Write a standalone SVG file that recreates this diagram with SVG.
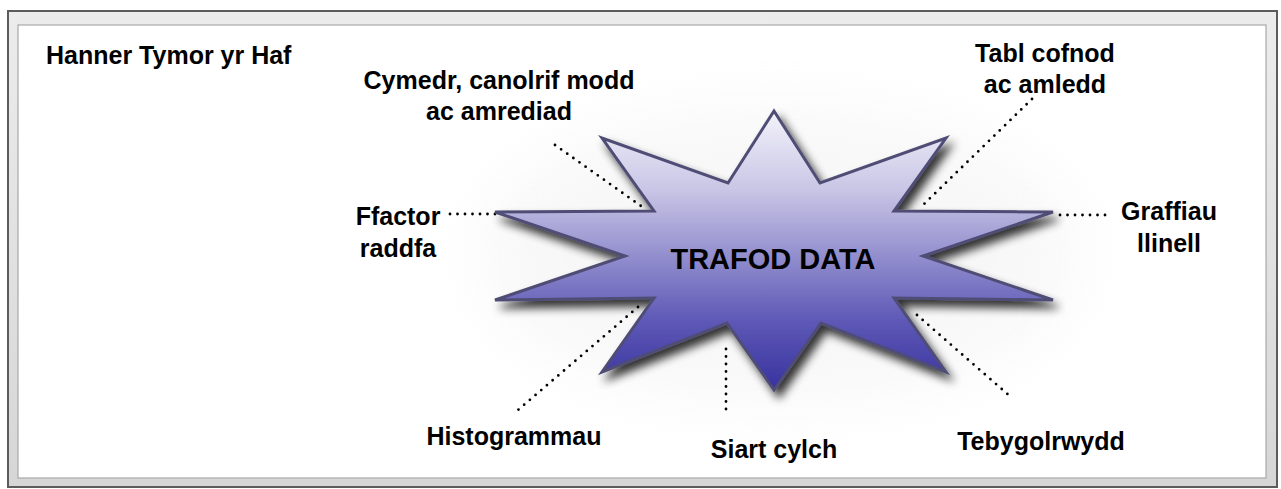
<svg xmlns="http://www.w3.org/2000/svg" width="1281" height="489" viewBox="0 0 1281 489">
  <style>
    .lbl { font-family: "Liberation Sans", Arial, sans-serif; font-weight: bold; font-size: 25px; fill: #000; }
    .mid { text-anchor: middle; }
    .title { font-size: 29px; }
    .dots { fill: none; stroke: #000; stroke-width: 2.8; stroke-linecap: round; stroke-dasharray: 0 7.5; }
  </style>
  <defs>
    <linearGradient id="starFill" gradientUnits="userSpaceOnUse" x1="0" y1="111" x2="0" y2="390">
      <stop offset="0" stop-color="#f3f2fa"/>
      <stop offset="0.28" stop-color="#c9c6e6"/>
      <stop offset="0.5" stop-color="#9793d0"/>
      <stop offset="0.75" stop-color="#5e59b6"/>
      <stop offset="1" stop-color="#38329f"/>
    </linearGradient>
    <linearGradient id="band" x1="0" y1="0" x2="0" y2="1">
      <stop offset="0" stop-color="#ececec"/>
      <stop offset="1" stop-color="#d6d6d6"/>
    </linearGradient>
    <filter id="shadow" x="-20%" y="-20%" width="140%" height="150%">
      <feGaussianBlur in="SourceAlpha" stdDeviation="5"/>
      <feOffset dx="5" dy="7" result="b"/>
      <feComponentTransfer><feFuncA type="linear" slope="0.8"/></feComponentTransfer>
      <feMerge><feMergeNode/><feMergeNode in="SourceGraphic"/></feMerge>
    </filter>
    <filter id="glow" x="-30%" y="-30%" width="160%" height="160%">
      <feGaussianBlur stdDeviation="30"/>
    </filter>
  </defs>

  <rect width="1281" height="489" fill="#ffffff"/>

  <g id="frame">
    <rect x="8" y="11" width="1269" height="476" fill="url(#band)" stroke="#5c5c5c" stroke-width="2"/>
    <rect x="18" y="25" width="1248" height="453" fill="#ffffff" stroke="#a8a8a8" stroke-width="1.2"/>
  </g>

  <ellipse id="backdrop" cx="780" cy="255" rx="300" ry="150" fill="#f1f1f3" filter="url(#glow)" opacity="0.5"/>

  <g id="heading">
    <text class="lbl" x="46" y="64">Hanner Tymor yr Haf</text>
  </g>

  <g id="connectors">
    <line class="dots" x1="555" y1="145" x2="641" y2="206"/>
    <line class="dots" x1="450" y1="214" x2="500" y2="214"/>
    <line class="dots" x1="1032" y1="99" x2="921" y2="207"/>
    <line class="dots" x1="1060" y1="215" x2="1112" y2="215"/>
    <line class="dots" x1="917" y1="315" x2="1012" y2="398"/>
    <line class="dots" x1="638" y1="307" x2="518" y2="410"/>
    <line class="dots" x1="726" y1="349" x2="726" y2="413"/>
  </g>

  <g id="center">
    <polygon filter="url(#shadow)" fill="url(#starFill)" stroke="#4f4d74" stroke-width="3" stroke-linejoin="miter"
      points="774,111 820,183 946,138 894,211 1053,212 923,256 1053,300 894,298 946,372 821,323 774,390 727,323 602,372 654,298 495,300 625,256 495,212 654,211 602,138 728,183"/>
    <text class="lbl mid title" x="773" y="269">TRAFOD DATA</text>
  </g>

  <g id="node-cymedr">
    <text class="lbl mid" x="499" y="89">Cymedr, canolrif modd</text>
    <text class="lbl mid" x="499" y="120">ac amrediad</text>
  </g>
  <g id="node-ffactor">
    <text class="lbl mid" x="398" y="225">Ffactor</text>
    <text class="lbl mid" x="398" y="257">raddfa</text>
  </g>
  <g id="node-tabl">
    <text class="lbl mid" x="1045" y="62">Tabl cofnod</text>
    <text class="lbl mid" x="1045" y="93">ac amledd</text>
  </g>
  <g id="node-graffiau">
    <text class="lbl mid" x="1169" y="220">Graffiau</text>
    <text class="lbl mid" x="1169" y="252">llinell</text>
  </g>
  <g id="node-histogrammau">
    <text class="lbl mid" x="514" y="445">Histogrammau</text>
  </g>
  <g id="node-siart">
    <text class="lbl mid" x="774" y="458">Siart cylch</text>
  </g>
  <g id="node-tebygolrwydd">
    <text class="lbl mid" x="1041" y="450">Tebygolrwydd</text>
  </g>
</svg>
